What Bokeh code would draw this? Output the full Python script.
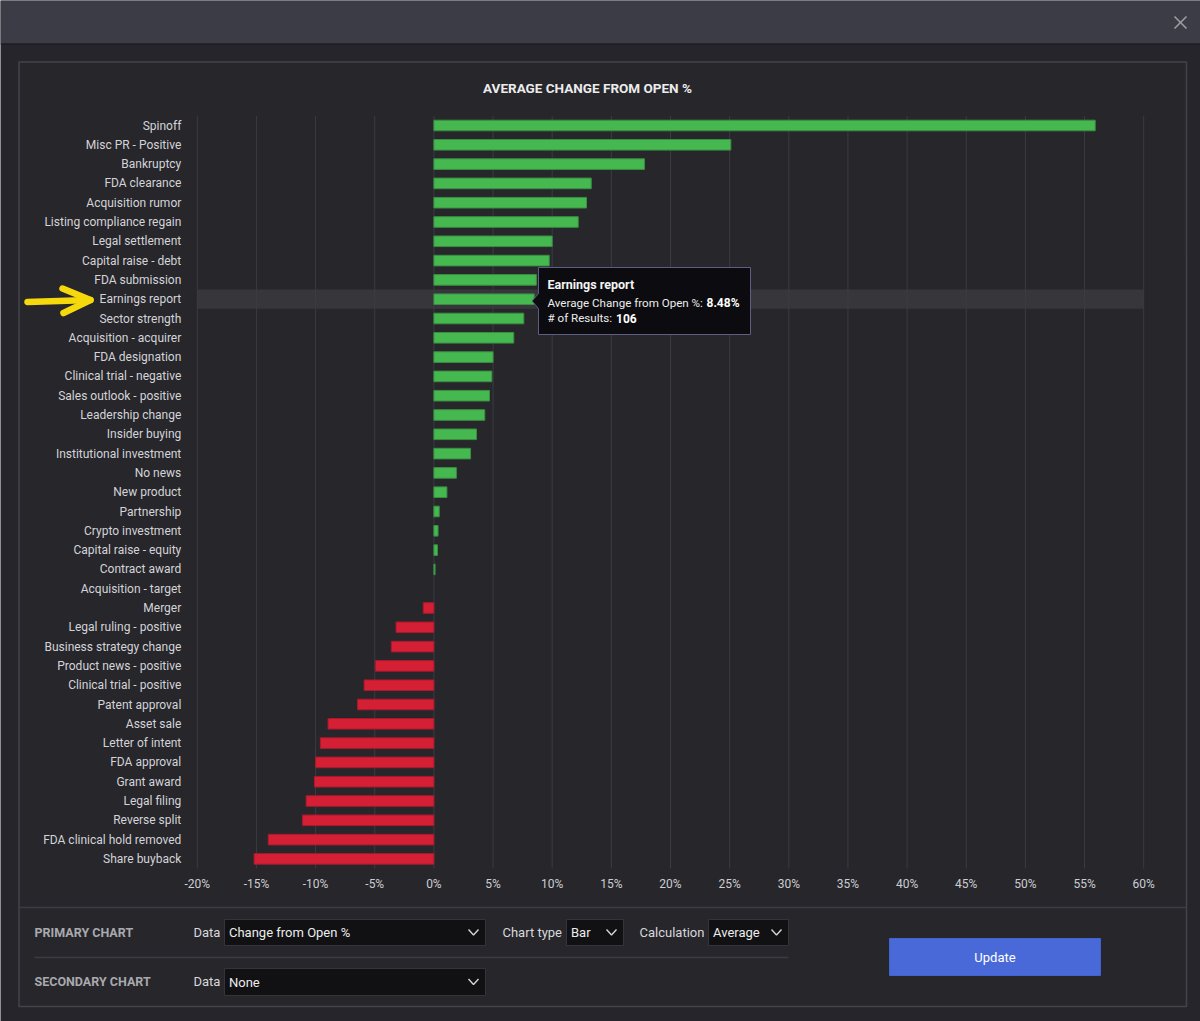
from bokeh.plotting import figure
from bokeh.models import Range1d, LinearAxis, FixedTicker
from bokeh.core.properties import value
from bokeh.embed import file_html
from bokeh.resources import INLINE

# ---- data -------------------------------------------------------------
categories = [
    "Spinoff", "Misc PR - Positive", "Bankruptcy", "FDA clearance",
    "Acquisition rumor", "Listing compliance regain", "Legal settlement",
    "Capital raise - debt", "FDA submission", "Earnings report",
    "Sector strength", "Acquisition - acquirer", "FDA designation",
    "Clinical trial - negative", "Sales outlook - positive",
    "Leadership change", "Insider buying", "Institutional investment",
    "No news", "New product", "Partnership", "Crypto investment",
    "Capital raise - equity", "Contract award", "Acquisition - target",
    "Merger", "Legal ruling - positive", "Business strategy change",
    "Product news - positive", "Clinical trial - positive",
    "Patent approval", "Asset sale", "Letter of intent", "FDA approval",
    "Grant award", "Legal filing", "Reverse split",
    "FDA clinical hold removed", "Share buyback",
]
avg_change = [
    55.9, 25.1, 17.8, 13.3, 12.9, 12.2, 10.0, 9.75, 8.66, 8.48,
    7.6, 6.75, 5.0, 4.9, 4.7, 4.3, 3.6, 3.1, 1.9, 1.1,
    0.45, 0.35, 0.3, 0.1, 0.0, -0.9, -3.2, -3.6, -4.95, -5.9,
    -6.45, -8.95, -9.6, -10.0, -10.1, -10.8, -11.1, -14.0, -15.2,
]
x_ticks = [-20, -15, -10, -5, 0, 5, 10, 15, 20, 25, 30, 35, 40, 45, 50, 55, 60]
x_tick_labels = ["-20%", "-15%", "-10%", "-5%", "0%", "5%", "10%", "15%", "20%",
                 "25%", "30%", "35%", "40%", "45%", "50%", "55%", "60%"]
hovered = "Earnings report"
hovered_results = 106

# ---- canvas -----------------------------------------------------------
W, H = 1200, 1021
FONT = "Roboto"

p = figure(width=W, height=H, x_range=Range1d(0, W), y_range=Range1d(H, 0),
           x_axis_type=None, y_axis_type=None, title=None,
           toolbar_location=None, output_backend="svg", min_border=0,
           outline_line_color=None, background_fill_color="#25252b",
           border_fill_color="#25252b")

# chart scales laid over the page: percent across, one unit per row down
ZERO_PX, PX_PER_PCT = 433.4, 11.83
ROW0_PX, ROW_PX = 125.0, 19.3
p.extra_x_ranges = {"pct": Range1d(-ZERO_PX / PX_PER_PCT, (W - ZERO_PX) / PX_PER_PCT)}
p.extra_y_ranges = {"row": Range1d((H - ROW0_PX) / ROW_PX, -ROW0_PX / ROW_PX)}

rows = list(range(len(categories)))
n = len(categories)


def text(x, y, s, size="13px", color="#d6d6d6", bold=False, align="left"):
    p.text(x=[x], y=[y], text=[s], text_font=value(FONT), text_font_size=size,
           text_color=color, text_font_style="bold" if bold else "normal",
           text_align=align, text_baseline="middle")


def chevron(cx, cy):
    p.line(x=[cx - 5, cx, cx + 5], y=[cy - 3, cy + 2.5, cy - 3],
           line_color="#d4d4d8", line_width=1.4)


def dropdown(x0, x1, y0, y1, label):
    p.quad(left=x0, right=x1, top=y0, bottom=y1, fill_color="#111114",
           line_color="#34343a", line_width=1)
    text(x0 + 4.5, (y0 + y1) / 2, label, color="#ececec")
    chevron(x1 - 12, (y0 + y1) / 2)


# window header and close button
p.quad(left=0, right=W, top=0, bottom=43, fill_color="#3c3c46", line_color=None)
p.quad(left=0, right=W, top=43, bottom=44, fill_color="#18181c", line_color=None)
p.segment(x0=[1174, 1174], y0=[16, 28], x1=[1186, 1186], y1=[28, 16],
          line_color="#9c9ca2", line_width=1.6)

# panel
p.quad(left=18.5, right=1186, top=61.5, bottom=1006, fill_color="#26262b",
       line_color="#43434a", line_width=1.5)
text(587, 87.5, "AVERAGE CHANGE FROM OPEN %", size="13.5px", color="#ececec", bold=True, align="center")

# hovered row band
hi = categories.index(hovered)
p.hbar(y=[hi], left=x_ticks[0], right=x_ticks[-1], height=1,
       fill_color="#ffffff", fill_alpha=0.08, line_color=None,
       x_range_name="pct", y_range_name="row")

# vertical grid lines
p.segment(x0=x_ticks, x1=x_ticks, y0=[-0.5] * len(x_ticks), y1=[n - 0.5] * len(x_ticks),
          line_color="#3b3b43", line_width=1, x_range_name="pct", y_range_name="row")

# bars
fills = ["#46b850" if v >= 0 else "#d51f35" for v in avg_change]
edges = ["#3a8e42" if v >= 0 else "#a91a2c" for v in avg_change]
edge_alpha = [0.0 if v == 0 else 1.0 for v in avg_change]
p.hbar(y=rows, left=0, right=avg_change, height=0.55, fill_color=fills,
       line_color=edges, line_alpha=edge_alpha, line_width=1,
       x_range_name="pct", y_range_name="row")

# axes
yaxis = LinearAxis(x_range_name="pct", y_range_name="row", fixed_location=x_ticks[0],
                   ticker=FixedTicker(ticks=rows, minor_ticks=[]),
                   major_label_overrides={i: c for i, c in enumerate(categories)})
yaxis.axis_line_color = None
yaxis.major_tick_line_color = None
yaxis.minor_tick_line_color = None
yaxis.major_tick_out = 0
yaxis.major_tick_in = 0
yaxis.major_label_standoff = 16
yaxis.major_label_text_font = FONT
yaxis.major_label_text_font_size = "12px"
yaxis.major_label_text_color = "#d4d4d8"
p.add_layout(yaxis, "left")

xaxis = LinearAxis(x_range_name="pct", y_range_name="row", fixed_location=n - 0.5,
                   ticker=FixedTicker(ticks=x_ticks, minor_ticks=[]),
                   major_label_overrides=dict(zip(x_ticks, x_tick_labels)))
xaxis.axis_line_color = None
xaxis.major_tick_line_color = None
xaxis.minor_tick_line_color = None
xaxis.major_tick_out = 0
xaxis.major_tick_in = 0
xaxis.major_label_standoff = 8
xaxis.major_label_text_font = FONT
xaxis.major_label_text_font_size = "12px"
xaxis.major_label_text_color = "#cdcdd2"
p.add_layout(xaxis, "below")

# tooltip for the hovered row
tx0, tx1, ty0, ty1 = 538, 750, 267, 334
p.patch(x=[tx0, tx1, tx1, tx0, tx0, tx0 - 6.5, tx0],
        y=[ty0, ty0, ty1, ty1, 308, 300.5, 293],
        fill_color="#0c0c10", line_color="#5e5e84", line_width=1)
text(547, 284, hovered, size="12.5px", color="#f4f4f4", bold=True)
text(547, 302, "Average Change from Open %:", size="11.6px", color="#ececec")
text(706, 302, f"{avg_change[hi]:.2f}%", size="12px", color="#ffffff", bold=True)
text(547, 317.5, "# of Results:", size="11.6px", color="#ececec")
text(615.5, 317.5, str(hovered_results), size="12px", color="#ffffff", bold=True)

# pointer arrow next to the hovered label
p.multi_line(xs=[[27, 90], [62, 90, 63]], ys=[[301.5, 299.5], [288, 299.5, 312.5]],
             line_color="#f5d90c", line_width=6.5, line_cap="round", line_join="round")

# control area
p.segment(x0=[18.5, 34], x1=[1186, 788], y0=[907, 957], y1=[907, 957],
          line_color="#3c3c43", line_width=1.5)
text(34, 932, "PRIMARY CHART", size="12.5px", color="#a9a9ae", bold=True)
text(34, 981, "SECONDARY CHART", size="12.5px", color="#a9a9ae", bold=True)
text(193, 932, "Data", color="#d8d8dc")
text(193, 981, "Data", color="#d8d8dc")
dropdown(224, 485, 919, 945, "Change from Open %")
text(502, 932, "Chart type", color="#d8d8dc")
dropdown(566, 623, 919, 945, "Bar")
text(639, 932, "Calculation", color="#d8d8dc")
dropdown(708, 788, 919, 945, "Average")
dropdown(224, 485, 968, 995, "None")

p.quad(left=889, right=1100, top=938, bottom=975, fill_color="#4a69d8",
       line_color="#4262cf", line_width=1)
text(994.5, 957, "Update", color="#ffffff", align="center")

open("out.html", "w").write(file_html(p, INLINE))
